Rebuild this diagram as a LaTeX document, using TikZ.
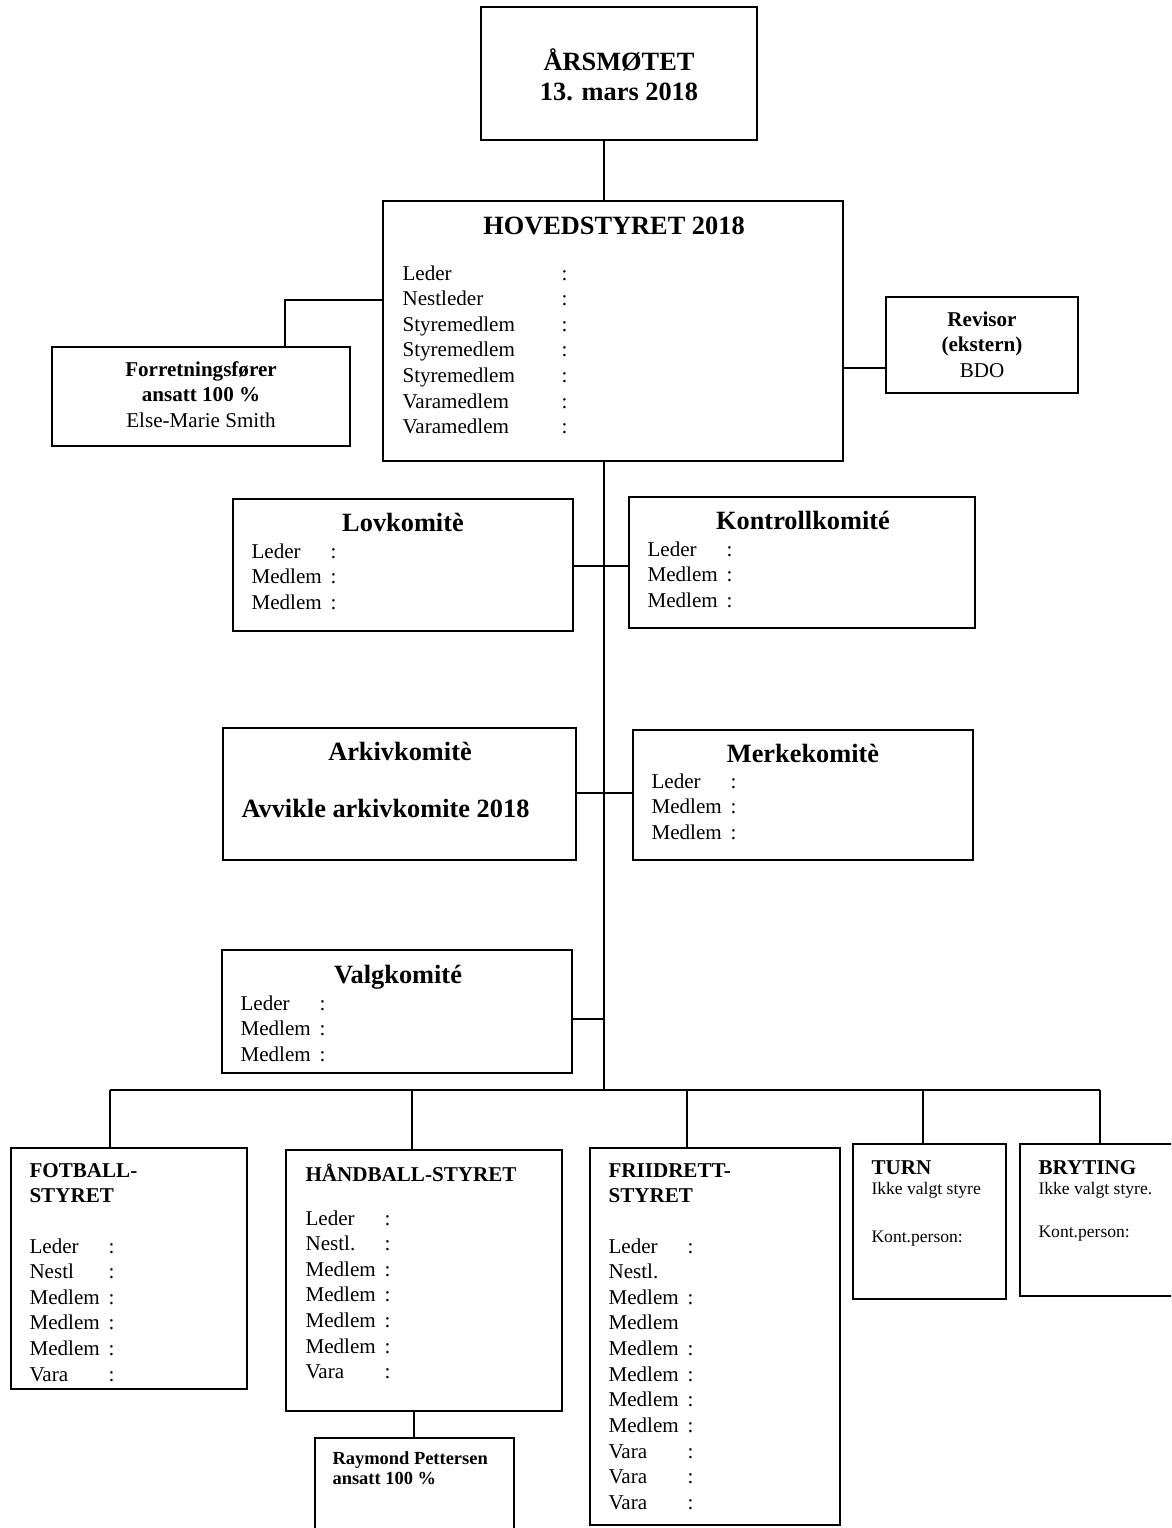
\documentclass[tikz,border=0pt]{standalone}
\usepackage{fontspec}
\setmainfont{Liberation Serif}
\usetikzlibrary{fit}
\newcommand\verv[2][1.58cm]{\makebox[#1][l]{#2}:}
\newcommand\rader[2][l]{\begin{tabular}[t]{@{}#1@{}}#2\end{tabular}}
\tikzset{
    every node/.style={inner sep=0pt},
    box/.style={draw, inner sep=0pt},
    head/.style={anchor=base, font=\bfseries\fontsize{15}{17.6}\selectfont},
    list/.style={anchor=base west, font=\fontsize{12}{14.6}\selectfont},
    sub/.style={anchor=base west, font=\bfseries\fontsize{12}{14.6}\selectfont},
    small/.style={anchor=base west, font=\fontsize{10}{12}\selectfont}
}
\begin{document}
\begin{tikzpicture}[x=0.02cm, y=-0.02cm, line width=.6pt]
        \useasboundingbox (0,0) rectangle (1171,1528);
        \clip (0,0) rectangle (1171,1528);
        % boxes
        \node (aars) [box, fit={(481,7) (757,140)}] {};
        \node (hoved) [box, fit={(383,201) (843,461)}] {};
        \node (forr) [box, fit={(52,347) (350,446)}] {};
        \node (revisor) [box, fit={(886,297) (1078,393)}] {};
        \node (lov) [box, fit={(233,499) (573,631)}] {};
        \node (kontroll) [box, fit={(629,497) (975,628)}] {};
        \node (arkiv) [box, fit={(223,728) (576,860)}] {};
        \node (merke) [box, fit={(633,730) (973,860)}] {};
        \node (valg) [box, fit={(222,950) (572,1073)}] {};
        \node (fotball) [box, fit={(11,1148) (247,1389)}] {};
        \node (handball) [box, fit={(286,1150) (562,1411)}] {};
        \node (raymond) [box, fit={(315,1438) (514,1540)}] {};
        \node (friidrett) [box, fit={(590,1148) (840,1525)}] {};
        \node (turn) [box, fit={(853,1144) (1006,1299)}] {};
        \node (bryting) [box, fit={(1020,1144) (1180,1296)}] {};
        % texts
        \node (aars-t) [head] at (619,70) {\rader[c]{ÅRSMØTET\\13. mars 2018}};
        \node (hoved-t) [head] at (614,234) {HOVEDSTYRET 2018};
        \node (hoved-l) [list] at (402,280) {\rader{\verv[3.18cm]{Leder}\\\verv[3.18cm]{Nestleder}\\\verv[3.18cm]{Styremedlem}\\\verv[3.18cm]{Styremedlem}\\\verv[3.18cm]{Styremedlem}\\\verv[3.18cm]{Varamedlem}\\\verv[3.18cm]{Varamedlem}}};
        \node (forr-t) [list, anchor=base] at (201,376) {\rader[c]{\textbf{Forretningsfører}\\\textbf{ansatt 100 \%}\\Else-Marie Smith}};
        \node (revisor-t) [list, anchor=base] at (982,326) {\rader[c]{\textbf{Revisor}\\\textbf{(ekstern)}\\BDO}};
        \node (lov-t) [head] at (403,531) {Lovkomitè};
        \node (lov-l) [list] at (251,558) {\rader{\verv{Leder}\\\verv{Medlem}\\\verv{Medlem}}};
        \node (kontroll-t) [head] at (803,529) {Kontrollkomité};
        \node (kontroll-l) [list] at (647,556) {\rader{\verv{Leder}\\\verv{Medlem}\\\verv{Medlem}}};
        \node (arkiv-t) [head] at (400,760) {Arkivkomitè};
        \node (arkiv-l) [head, anchor=base west] at (241,817) {Avvikle arkivkomite 2018};
        \node (merke-t) [head] at (803,762) {Merkekomitè};
        \node (merke-l) [list] at (651,788) {\rader{\verv{Leder}\\\verv{Medlem}\\\verv{Medlem}}};
        \node (valg-t) [head] at (398,983) {Valgkomité};
        \node (valg-l) [list] at (240,1010) {\rader{\verv{Leder}\\\verv{Medlem}\\\verv{Medlem}}};
        \node (fotball-t) [sub] at (29,1177) {\rader{FOTBALL-\\STYRET}};
        \node (fotball-l) [list] at (29,1253) {\rader{\verv{Leder}\\\verv{Nestl}\\\verv{Medlem}\\\verv{Medlem}\\\verv{Medlem}\\\verv{Vara}}};
        \node (handball-t) [sub] at (305,1181) {HÅNDBALL-STYRET};
        \node (handball-l) [list] at (305,1225) {\rader{\verv{Leder}\\\verv{Nestl.}\\\verv{Medlem}\\\verv{Medlem}\\\verv{Medlem}\\\verv{Medlem}\\\verv{Vara}}};
        \node (raymond-t) [sub, font=\bfseries\fontsize{10.5}{11.4}\selectfont] at (332,1464) {\rader{Raymond Pettersen\\ansatt 100 \%}};
        \node (friidrett-t) [sub] at (608,1177) {\rader{FRIIDRETT-\\STYRET}};
        \node (friidrett-l) [list] at (608,1253) {\rader{\verv{Leder}\\Nestl.\\\verv{Medlem}\\Medlem\\\verv{Medlem}\\\verv{Medlem}\\\verv{Medlem}\\\verv{Medlem}\\\verv{Vara}\\\verv{Vara}\\\verv{Vara}}};
        \node (turn-t) [sub] at (871,1174) {TURN};
        \node (turn-s) [small] at (871,1194) {Ikke valgt styre};
        \node (turn-k) [small] at (871,1242) {Kont.person:};
        \node (bryting-t) [sub] at (1038,1174) {BRYTING};
        \node (bryting-s) [small] at (1038,1194) {Ikke valgt styre.};
        \node (bryting-k) [small] at (1038,1237) {Kont.person:};
        % connectors
        \coordinate (spine) at (604,1090);
        \coordinate (fk) at (285,300);
        \coordinate (rk) at (864,368);
        \coordinate (k1) at (604,566);
        \coordinate (k2) at (604,793);
        \coordinate (k3) at (604,1019);
        \coordinate (hr) at (414,1425);
        \coordinate (b1) at (110,1090);
        \coordinate (b2) at (412,1090);
        \coordinate (b3) at (687,1090);
        \coordinate (b4) at (923,1090);
        \coordinate (b5) at (1100,1090);
        \draw (aars.south -| spine) -- (hoved.north -| spine);
        \draw (hoved.south -| spine) -- (spine);
        \draw (hoved.west |- fk) -- (fk) -- (fk |- forr.north);
        \draw (hoved.east |- rk) -- (revisor.west |- rk);
        \draw (lov.east |- k1) -- (kontroll.west |- k1);
        \draw (arkiv.east |- k2) -- (merke.west |- k2);
        \draw (valg.east |- k3) -- (k3);
        \draw (b1) -- (b5);
        \foreach \n/\b in {fotball/b1, handball/b2, friidrett/b3, turn/b4, bryting/b5}
                \draw (\b) -- (\b |- \n.north);
        \draw (hr |- handball.south) -- (hr |- raymond.north);
\end{tikzpicture}
\end{document}
